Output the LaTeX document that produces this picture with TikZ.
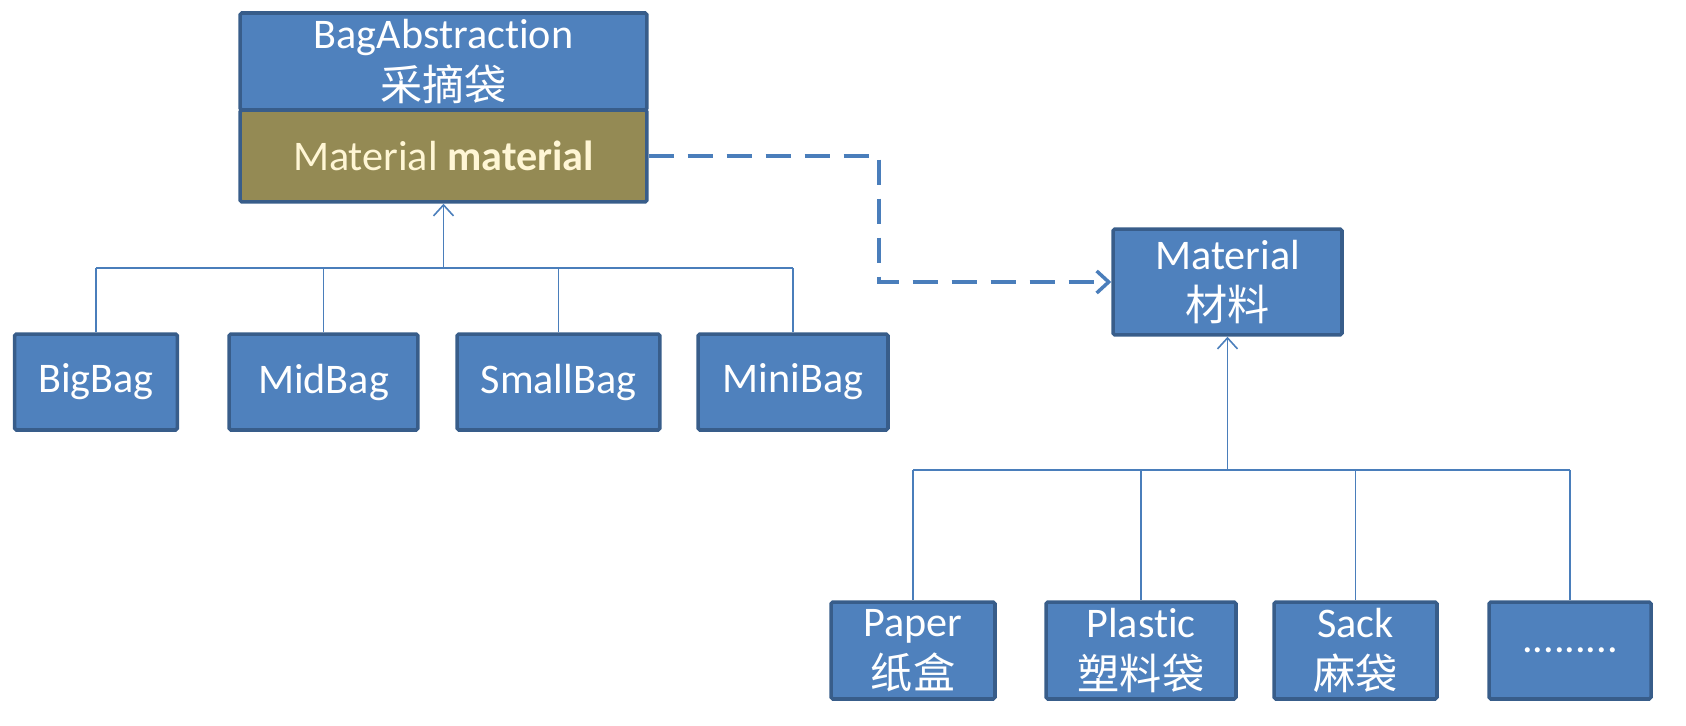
\documentclass[tikz,border=0pt]{standalone}
\usepackage{fontspec}
\setmainfont{Carlito}[Ligatures=NoCommon]
\newfontfamily\cjk{Noto Sans CJK SC}
\usetikzlibrary{positioning, arrows.meta}
\definecolor{boxfill}{HTML}{4F81BD}
\definecolor{boxdraw}{HTML}{385D8A}
\definecolor{fieldfill}{HTML}{948A54}
\definecolor{fieldtext}{HTML}{FFF6D5}
\definecolor{linkcol}{HTML}{4A7EBB}

\begin{document}
\begin{tikzpicture}[
    x=0.02cm, y=-0.02cm,
    cls/.style={rectangle, rounded corners=1pt, draw=boxdraw, line width=2pt,
                fill=#1, inner sep=0pt, align=center, text=white,
                font=\fontsize{24}{29.5}\selectfont},
    cls/.default=boxfill,
    link/.style={draw=linkcol, line width=0.9pt},
    inh/.style={link, -{Straight Barb[length=0.22cm, width=0.4cm]}},
    dep/.style={draw=linkcol, line width=2pt, dash pattern=on 0.5cm off 0.28cm,
                -{Straight Barb[length=0.24cm, width=0.44cm]}},
]
\useasboundingbox (0,0) rectangle (1686,726);

% Abstraction
\node[cls, minimum width=8.14cm, minimum height=1.94cm] (bagabs) at (443.5, 61.5)
    {BagAbstraction\\{\cjk 采摘袋}};
\node[cls=fieldfill, minimum width=8.14cm, minimum height=1.84cm, text=fieldtext] (bagfield) at (443.5, 156)
    {Material \textbf{material}};

% Refined abstractions
\node[cls, minimum width=3.26cm, minimum height=1.92cm] (bigbag)   at (96, 382)    {BigBag};
\node[cls, minimum width=3.78cm, minimum height=1.92cm] (midbag)   at (323.5, 382) {MidBag};
\node[cls, minimum width=4.06cm, minimum height=1.92cm] (smallbag) at (558.5, 382) {SmallBag};
\node[cls, minimum width=3.80cm, minimum height=1.92cm] (minibag)  at (793, 382)   {MiniBag};

% Implementor
\node[cls, minimum width=4.58cm, minimum height=2.12cm] (material) at (1227.5, 282)
    {Material\\{\cjk 材料}};

% Concrete implementors
\node[cls, minimum width=3.28cm, minimum height=1.94cm] (paper)   at (913, 650.5)    {Paper\\{\cjk 纸盒}};
\node[cls, minimum width=3.80cm, minimum height=1.94cm] (plastic) at (1141, 650.5)   {Plastic\\{\cjk 塑料袋}};
\node[cls, minimum width=3.26cm, minimum height=1.94cm] (sack)    at (1355.5, 650.5) {Sack\\{\cjk 麻袋}};
\node[cls, minimum width=3.24cm, minimum height=1.94cm] (more)    at (1570, 650.5)   {.........};

% === Bag hierarchy ===
\coordinate (bagbus) at (443.5, 268);
\draw[link] (bigbag.north |- bagbus) -- (minibag.north |- bagbus);
\foreach \b in {bigbag,midbag,smallbag,minibag} {
    \draw[link] (\b.north |- bagbus) -- (\b.north);
}
\draw[inh] (bagbus) -- (bagfield.south);

% === Material hierarchy ===
\coordinate (matbus) at (1227.5, 470);
\draw[link] (paper.north |- matbus) -- (more.north |- matbus);
\foreach \m in {paper,plastic,sack,more} {
    \draw[link] (\m.north |- matbus) -- (\m.north);
}
\draw[inh] (matbus) -- (material.south);

% Bridge
\coordinate (bend) at (879, 156);
\draw[dep] (bagfield.east) -- (bend) |- (material.west);

\end{tikzpicture}
\end{document}
